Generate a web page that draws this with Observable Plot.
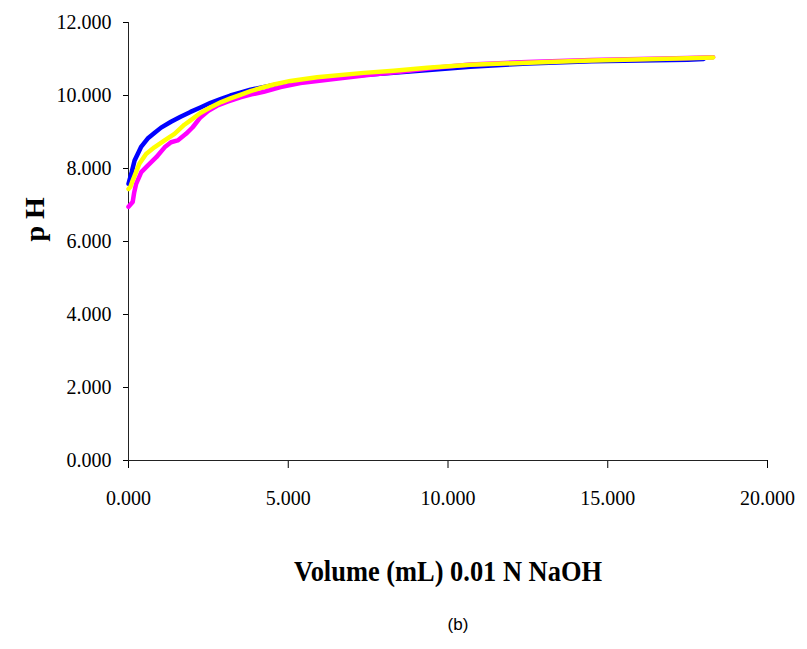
<!DOCTYPE html>
<html>
<head>
<meta charset="utf-8">
<script src="https://cdn.jsdelivr.net/npm/d3@7"></script>
<script src="https://cdn.jsdelivr.net/npm/@observablehq/plot@0.6"></script>
<style>
  body { margin: 0; background: #fff; }
  #wrap { position: relative; width: 807px; height: 649px; }
  #cap { position: absolute; top: 615px; left: 458px; transform: translateX(-50%);
         font-family: "Liberation Sans", Arial, sans-serif; font-size: 17px; color: #000; }
</style>
</head>
<body>
<div id="wrap"><div id="chart"></div><div id="cap">(b)</div></div>
<script>
// Blue series
const blueVol = [0.00,0.10,0.19,0.30,0.40,0.60,0.81,1.02,1.33,1.63,1.94,2.25,2.57,2.90,3.19,3.50,3.82,4.44,5.00,5.90,7.00,8.30,9.40,10.70,12.50,14.50,17.50,18.00];
const bluePH  = [7.58,7.90,8.22,8.42,8.60,8.82,8.97,9.12,9.28,9.42,9.55,9.67,9.80,9.91,10.00,10.08,10.16,10.27,10.36,10.45,10.54,10.62,10.70,10.79,10.88,10.94,10.98,11.00];
// Magenta series
const magVol = [0.00,0.13,0.18,0.24,0.40,0.60,0.87,1.13,1.33,1.54,1.80,2.01,2.25,2.50,2.77,3.10,3.50,3.85,4.23,4.76,5.38,6.50,7.50,8.50,9.60,10.70,12.50,14.50,17.50,18.30];
const magPH  = [6.95,7.08,7.35,7.58,7.90,8.08,8.31,8.58,8.72,8.77,8.95,9.13,9.40,9.58,9.72,9.83,9.95,10.03,10.10,10.23,10.34,10.46,10.56,10.65,10.76,10.85,10.92,10.97,11.03,11.05];
// Yellow series
const yelVol = [0.00,0.06,0.13,0.34,0.55,0.81,1.13,1.44,1.75,1.94,2.25,2.57,2.90,3.19,3.50,3.82,4.20,4.55,5.07,5.90,7.36,8.30,9.35,10.70,12.50,13.80,14.50,17.50,18.30];
const yelPH  = [7.44,7.50,7.67,8.13,8.40,8.58,8.77,8.95,9.20,9.32,9.52,9.68,9.82,9.92,10.02,10.12,10.22,10.30,10.40,10.50,10.62,10.68,10.76,10.84,10.90,10.94,10.96,11.02,11.04];

const xTicks = [0, 5, 10, 15, 20];
const yTicks = [0, 2, 4, 6, 8, 10, 12];
const xTitle = "Volume (mL) 0.01 N NaOH";
const yTitle = "p H";

const toRows = (xs, ys) => xs.map((v, i) => ({x: v, y: ys[i]}));
const blue = toRows(blueVol, bluePH);
const mag = toRows(magVol, magPH);
const yel = toRows(yelVol, yelPH);
const fmt = d3.format(".3f");

const chart = Plot.plot({
  width: 807,
  height: 605,
  marginLeft: 128,
  marginRight: 40,
  marginTop: 22,
  marginBottom: 145,
  style: {fontFamily: "'Liberation Serif', 'Times New Roman', serif", fontSize: "20px", background: "#fff", color: "#000"},
  x: {domain: [0, 20]},
  y: {domain: [0, 12]},
  marks: [
    Plot.axisY({ticks: yTicks, tickFormat: fmt, tickSize: 5, tickPadding: 12, label: null, fontSize: 20}),
    Plot.axisX({ticks: xTicks, tickFormat: fmt, tickSize: 8, tickPadding: 22, label: null, fontSize: 20}),
    Plot.ruleX([0], {stroke: "#222"}),
    Plot.ruleY([0], {stroke: "#222"}),
    Plot.line(blue, {x: "x", y: "y", stroke: "#0000ff", strokeWidth: 4.5}),
    Plot.line(mag, {x: "x", y: "y", stroke: "#ff00ff", strokeWidth: 4.5}),
    Plot.line(yel, {x: "x", y: "y", stroke: "#ffff00", strokeWidth: 4.5}),
    Plot.text([xTitle], {frameAnchor: "bottom", dy: 120, fontWeight: "bold", fontSize: 30, text: d => d}),
    Plot.text([yTitle], {frameAnchor: "left", dx: -93, rotate: -90, fontWeight: "bold", fontSize: 28, text: d => d})
  ]
});
document.getElementById("chart").appendChild(chart);
d3.select(chart).selectAll("text").each(function() {
  if (this.textContent === xTitle) {
    d3.select(this).attr("textLength", 308).attr("lengthAdjust", "spacingAndGlyphs");
  }
});
</script>
</body>
</html>
